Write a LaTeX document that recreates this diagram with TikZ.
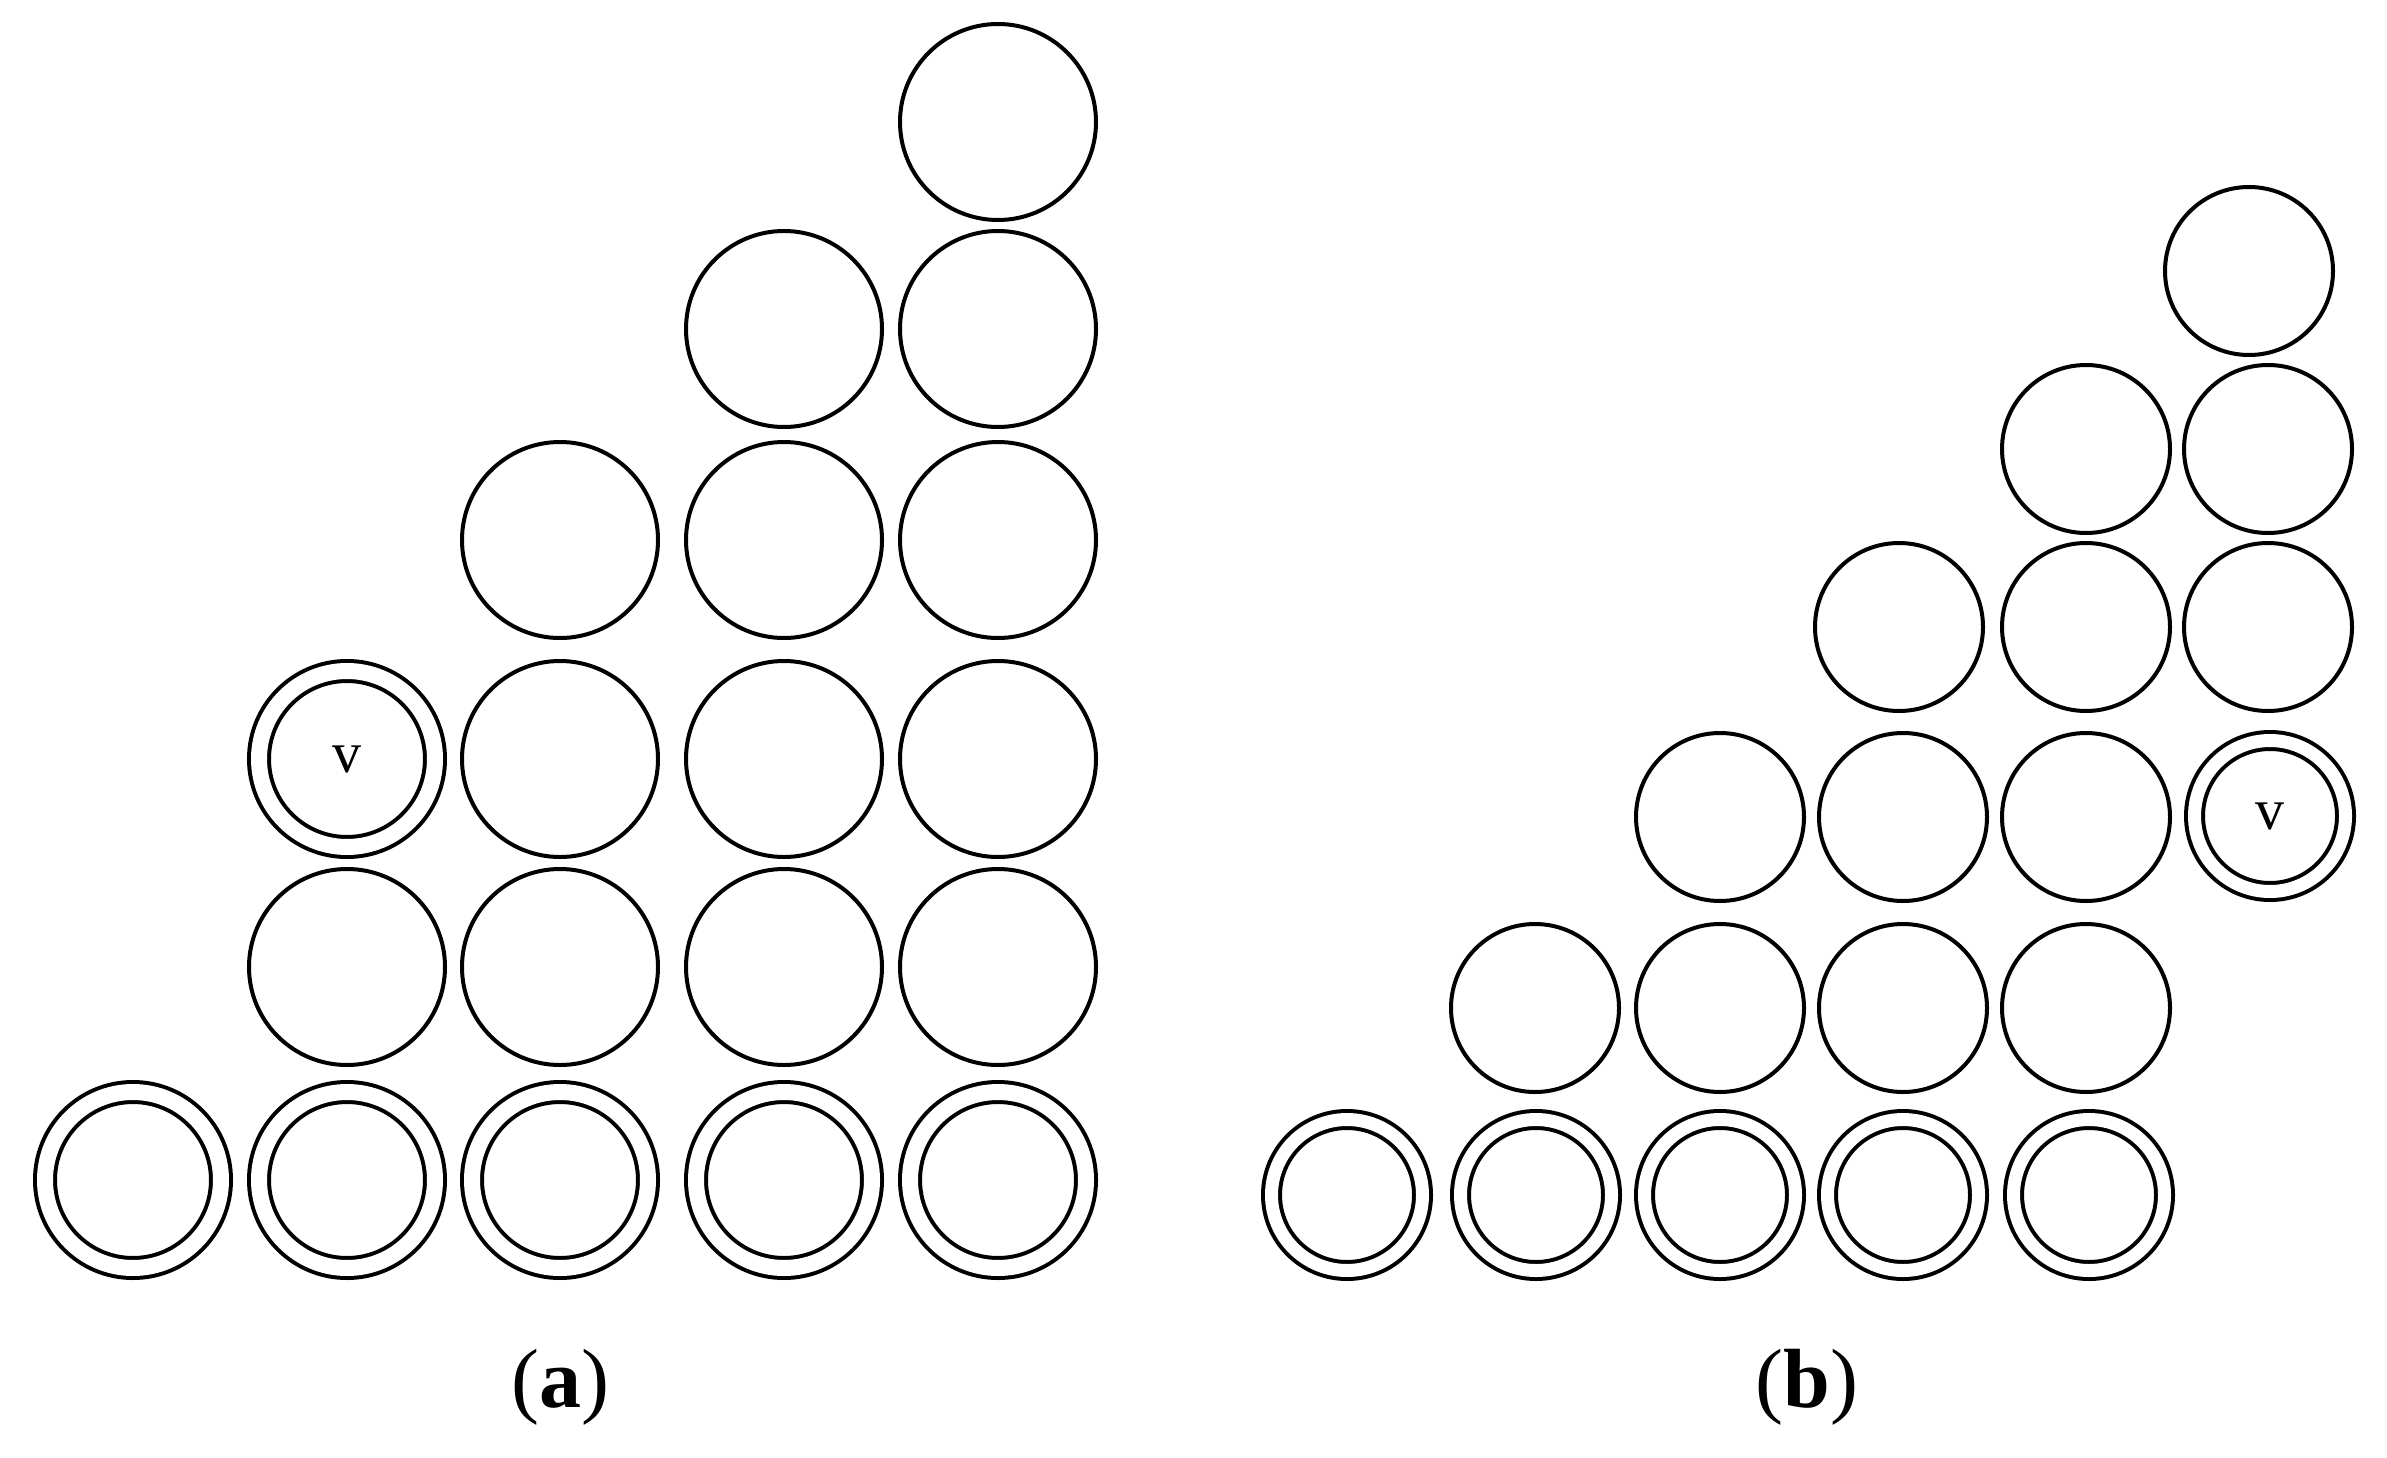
\documentclass[tikz,border=0pt]{standalone}
\usepackage{fontspec}
\newfontfamily\vfont{Liberation Serif}
\begin{document}
\begin{tikzpicture}[x=1pt,y=-1pt,
  lw/.style={line width=4pt},
  cA/.style={circle,draw,lw,inner sep=0pt,minimum size=196pt},
  dA/.style={circle,draw,lw,double,double distance=16pt,inner sep=0pt,minimum size=176pt},
  cB/.style={circle,draw,lw,inner sep=0pt,minimum size=168pt},
  dB/.style={circle,draw,lw,double,double distance=13pt,inner sep=0pt,minimum size=151pt},
  vlab/.style={font=\vfont\fontsize{58}{60}\selectfont},
  captext/.style={font=\vfont\fontsize{84}{86}\selectfont}]
\path[use as bounding box] (0,0) rectangle (2387,1458);
% ---- (a) ----
\node[dA] (a11) at (133,1180) {};
\node[dA] (a12) at (347,1180) {};
\node[dA] (a13) at (560,1180) {};
\node[dA] (a14) at (784,1180) {};
\node[dA] (a15) at (998,1180) {};
\node[cA] (a22) at (347,967) {};
\node[cA] (a23) at (560,967) {};
\node[cA] (a24) at (784,967) {};
\node[cA] (a25) at (998,967) {};
\node[dA,vlab] (a32) at (347,759) {v};
\node[cA] (a33) at (560,759) {};
\node[cA] (a34) at (784,759) {};
\node[cA] (a35) at (998,759) {};
\node[cA] (a43) at (560,540) {};
\node[cA] (a44) at (784,540) {};
\node[cA] (a45) at (998,540) {};
\node[cA] (a54) at (784,329) {};
\node[cA] (a55) at (998,329) {};
\node[cA] (a65) at (998,122) {};
% ---- (b) ----
\node[dB] (b11) at (1347,1195) {};
\node[dB] (b12) at (1536,1195) {};
\node[dB] (b13) at (1720,1195) {};
\node[dB] (b14) at (1903,1195) {};
\node[dB] (b15) at (2089,1195) {};
\node[cB] (b22) at (1535,1008) {};
\node[cB] (b23) at (1720,1008) {};
\node[cB] (b24) at (1903,1008) {};
\node[cB] (b25) at (2086,1008) {};
\node[cB] (b33) at (1720,817) {};
\node[cB] (b34) at (1903,817) {};
\node[cB] (b35) at (2086,817) {};
\node[dB,vlab] (b36) at (2270,816) {v};
\node[cB] (b44) at (1899,627) {};
\node[cB] (b45) at (2086,627) {};
\node[cB] (b46) at (2268,627) {};
\node[cB] (b55) at (2086,449) {};
\node[cB] (b56) at (2268,449) {};
\node[cB] (b66) at (2249,271) {};
% captions
\node[captext] (capa) at (560,1387) {(\textbf{a})};
\node[captext] (capb) at (1807,1387) {(\textbf{b})};
\end{tikzpicture}
\end{document}
